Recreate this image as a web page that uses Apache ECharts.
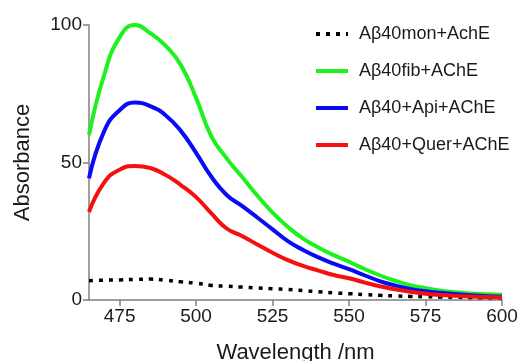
<!DOCTYPE html>
<html>
<head>
<meta charset="utf-8">
<script src="https://cdn.jsdelivr.net/npm/echarts@6/dist/echarts.min.js"></script>
<style>
  html, body { margin: 0; padding: 0; background: #fff; }
  #main { width: 519px; height: 361px; }
</style>
</head>
<body>
<div id="main"></div>
<script>
// wavelength (nm)
let wavelength = [465, 470, 475, 480, 485, 490, 495, 500, 505, 510, 515, 520, 525, 530,
    535, 540, 545, 550, 555, 560, 565, 570, 575, 580, 585, 590, 595, 600];

let monAChE = [7.0, 7.2, 7.3, 7.5, 7.6, 7.2, 6.6, 6.1, 5.3, 5.0, 4.7, 4.4, 4.1, 3.8,
    3.4, 3.0, 2.6, 2.3, 2.0, 1.7, 1.5, 1.3, 1.2, 1.1, 1.0, 0.9, 0.8, 0.8];
let fibAChE = [60, 82, 95.5, 100, 97, 92.5, 85.5, 73.5, 59.5, 51.5, 44.8, 38, 31.8, 26.6,
    22.3, 19.1, 16.3, 13.9, 11.3, 9.0, 7.0, 5.4, 4.3, 3.4, 2.8, 2.4, 2.1, 1.9];
let apiAChE = [44.2, 61.5, 69, 71.8, 70.5, 67.2, 61.5, 53.5, 44.8, 38.2, 34.2, 30, 25.7, 21.4,
    18.2, 15.5, 13.2, 11.2, 9.0, 6.9, 5.3, 4.0, 3.2, 2.6, 2.1, 1.7, 1.4, 1.2];
let querAChE = [32, 42.8, 47.4, 48.7, 48, 45.5, 41.8, 37.4, 31.5, 26, 23.3, 20.2, 17.2, 14.5,
    12.4, 10.7, 9.1, 7.9, 6.4, 5.0, 3.9, 3.0, 2.3, 1.8, 1.5, 1.3, 1.1, 1.0];

let xTicks = [475, 500, 525, 550, 575, 600];

let names = ['Aβ40mon+AchE', 'Aβ40fib+AChE', 'Aβ40+Api+AChE', 'Aβ40+Quer+AChE'];

function pairs(ys) {
    return wavelength.map(function(x, i) { return [x, ys[i]]; });
}

let font = '"Liberation Sans", Arial, sans-serif';
let axisColor = '#808080';
let textColor = '#1a1a1a';

let chart = echarts.init(document.getElementById('main'));
let option = {
    animation: false,
    backgroundColor: '#fff',
    textStyle: { fontFamily: font },
    grid: { left: 89, right: 17, top: 25, bottom: 61, outerBoundsMode: 'none', containLabel: false },
    legend: {
        orient: 'vertical',
        left: 309,
        top: 20,
        itemWidth: 32,
        itemHeight: 14,
        itemGap: 19,
        itemStyle: { opacity: 0 },
        lineStyle: { width: 4 },
        textStyle: { fontSize: 18, color: textColor, fontFamily: font, padding: [0, 0, 0, 6] },
        data: names
    },
    xAxis: {
        type: 'value',
        min: 465,
        max: 600,
        name: 'Wavelength /nm',
        nameLocation: 'middle',
        nameGap: 42,
        nameTextStyle: { fontSize: 22, color: textColor },
        splitLine: { show: false },
        axisLine: { show: true, lineStyle: { color: axisColor, width: 1.5 } },
        axisTick: { show: true, length: 6, customValues: xTicks, lineStyle: { color: axisColor, width: 1.5 } },
        axisLabel: { customValues: xTicks, fontSize: 19, color: textColor, margin: 7 }
    },
    yAxis: {
        type: 'value',
        min: 0,
        max: 100,
        interval: 50,
        name: 'Absorbance',
        nameLocation: 'middle',
        nameGap: 55,
        nameTextStyle: { fontSize: 22, color: textColor },
        splitLine: { show: false },
        axisLine: { show: true, lineStyle: { color: axisColor, width: 1.5 } },
        axisTick: { show: true, length: 6, lineStyle: { color: axisColor, width: 1.5 } },
        axisLabel: { fontSize: 19, color: textColor, margin: 7 }
    },
    series: [
        {
            name: names[0], type: 'line', data: pairs(monAChE), smooth: true, symbol: 'none',
            itemStyle: { color: '#000' },
            lineStyle: { color: '#000', width: 3.5, type: [4, 6] }
        },
        {
            name: names[1], type: 'line', data: pairs(fibAChE), smooth: true, symbol: 'none',
            itemStyle: { color: '#1ef21e' },
            lineStyle: { color: '#1ef21e', width: 4 }
        },
        {
            name: names[2], type: 'line', data: pairs(apiAChE), smooth: true, symbol: 'none',
            itemStyle: { color: '#0a0af5' },
            lineStyle: { color: '#0a0af5', width: 4 }
        },
        {
            name: names[3], type: 'line', data: pairs(querAChE), smooth: true, symbol: 'none',
            itemStyle: { color: '#f51010' },
            lineStyle: { color: '#f51010', width: 4 }
        }
    ]
};
chart.setOption(option);
</script>
</body>
</html>
